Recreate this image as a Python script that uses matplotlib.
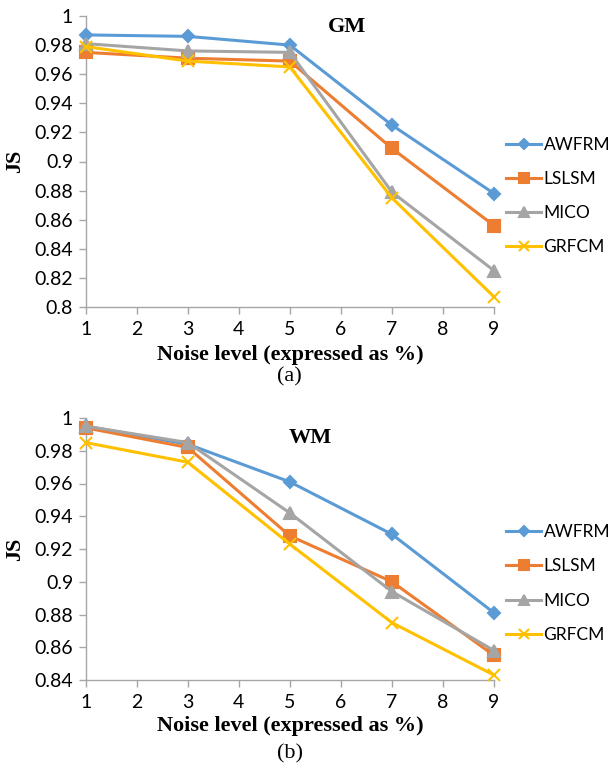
import numpy as np
import matplotlib
matplotlib.use("Agg")
import matplotlib.pyplot as plt

noise = [1, 3, 5, 7, 9]
methods = ["AWFRM", "LSLSM", "MICO", "GRFCM"]

# JS scores for grey matter
gm_awfrm = [0.987, 0.986, 0.980, 0.925, 0.878]
gm_lslsm = [0.975, 0.971, 0.969, 0.909, 0.856]
gm_mico = [0.981, 0.976, 0.975, 0.879, 0.825]
gm_grfcm = [0.979, 0.969, 0.965, 0.875, 0.807]

# JS scores for white matter
wm_awfrm = [0.995, 0.984, 0.961, 0.929, 0.881]
wm_lslsm = [0.994, 0.982, 0.928, 0.900, 0.855]
wm_mico = [0.995, 0.985, 0.942, 0.894, 0.858]
wm_grfcm = [0.985, 0.973, 0.923, 0.875, 0.843]

colors = ["#5B9BD5", "#ED7D31", "#A5A5A5", "#FFC000"]
markers = ["D", "s", "^", "x"]
msizes = [6, 8, 8, 8]

tick_font = "Lato"
serif = "Liberation Serif"
axis_grey = "#A6A6A6"

fig = plt.figure(figsize=(6.09, 7.68), dpi=100)
H = 768.0


def panel(top_px, bot_px, series, title, title_xy, ymin, xlab_px, tag_px, tag):
    h = bot_px - top_px
    ax = fig.add_axes([85.7 / 609, 1 - bot_px / H, 408.3 / 609, h / H])
    for vals, name, c, m, ms in zip(series, methods, colors, markers, msizes):
        ax.plot(noise, vals, color=c, marker=m, markersize=ms, lw=2.2,
                markeredgewidth=1.5, label=name, clip_on=False, zorder=3)
    ax.set_xlim(1, 9)
    ax.set_ylim(ymin, 1.0)
    ax.set_xticks(range(1, 10))
    yt = np.round(np.arange(ymin, 1.0001, 0.02), 2)
    ax.set_yticks(yt)
    ax.set_yticklabels([f"{v:g}" for v in yt])
    for s in ["top", "right"]:
        ax.spines[s].set_visible(False)
    for s in ["left", "bottom"]:
        ax.spines[s].set_color(axis_grey)
        ax.spines[s].set_linewidth(1.0)
    ax.tick_params(colors=axis_grey, length=5, width=1, labelcolor="black",
                   labelsize=14)
    ax.tick_params(axis="x", pad=5)
    ax.tick_params(axis="y", pad=4)
    for lab in ax.get_xticklabels() + ax.get_yticklabels():
        lab.set_fontfamily(tick_font)
    ax.text(title_xy[0], title_xy[1], title, transform=ax.transAxes,
            ha="center", va="center", fontfamily=serif, fontweight="bold",
            fontsize=16)
    ax.set_ylabel("JS", fontfamily=serif, fontweight="bold", fontsize=16,
                  va="center")
    ax.yaxis.set_label_coords((15 - 85.7) / 408.3, 0.5)
    ax.set_xlabel("Noise level (expressed as %)", fontfamily=serif,
                  fontweight="bold", fontsize=16, va="center")
    ax.xaxis.set_label_coords(0.5, -(xlab_px - bot_px) / h)
    ax.legend(loc="center left", bbox_to_anchor=(1.0, 0.5 - 34.5 / h),
              frameon=False, prop={"family": tick_font, "size": 12.5},
              handlelength=2.0, labelspacing=1.05, handletextpad=0.15,
              borderaxespad=0.4, borderpad=0.3, markerscale=0.85)
    fig.text(0.5 * (85.7 + 494) / 609, 1 - tag_px / H, tag, ha="center",
             va="center", fontfamily=serif, fontsize=16)
    return ax


panel(16, 307, [gm_awfrm, gm_lslsm, gm_mico, gm_grfcm], "GM", (0.639, 0.963),
      0.80, 355, 377, "(a)")
panel(418, 680, [wm_awfrm, wm_lslsm, wm_mico, wm_grfcm], "WM", (0.549, 0.923),
      0.84, 726, 754, "(b)")

fig.savefig("out.png", dpi=100)
